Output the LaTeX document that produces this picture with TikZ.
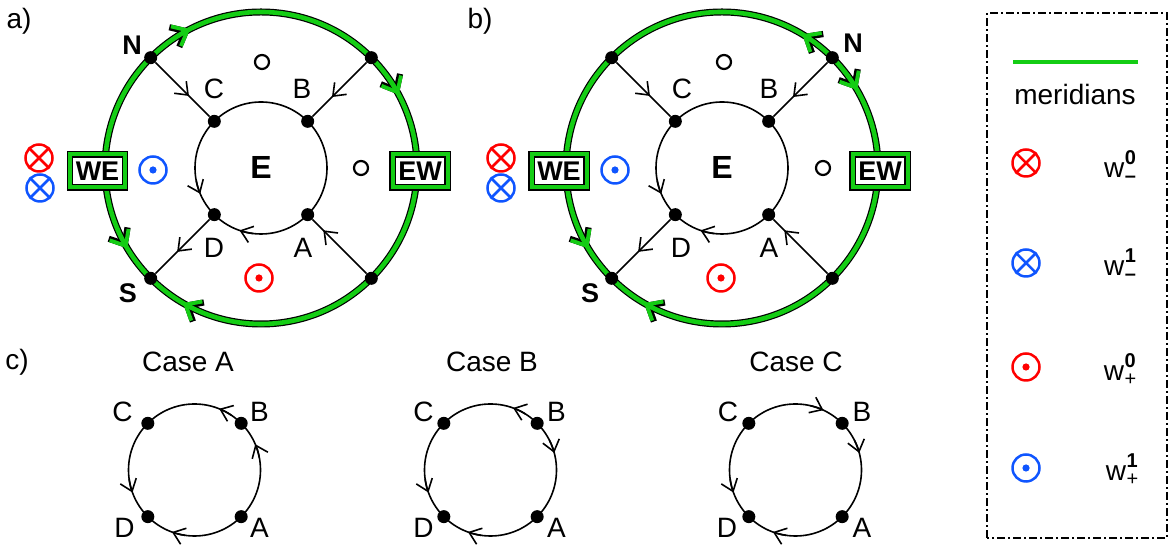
\documentclass[tikz,border=0pt]{standalone}
\usepackage{fontspec}
\setmainfont{Liberation Sans}
\usetikzlibrary{arrows.meta,decorations.markings,calc}
\definecolor{mgreen}{RGB}{20,205,20}
\definecolor{mred}{RGB}{255,0,0}
\definecolor{mblue}{RGB}{15,85,255}
\newcommand{\fs}[1]{\fontsize{#1}{#1}\selectfont}
\newcommand{\arcarrow}[5]{\draw[#5] ([shift={({#3-(#4)}:#2)}]#1) arc[start angle={#3-(#4)}, end angle={#3}, radius=#2];}
\newcommand{\wl}[2]{w\kern0.5pt\rlap{\raisebox{13pt}{\fs{20}\bfseries #1}}\raisebox{-5pt}{\fs{20}#2}}
\tikzset{
  dot/.style={circle, fill=black, inner sep=0, minimum size=13},
  conn/.style={line width=1.6},
  tarrow/.style={line width=1.6, -{Straight Barb[length=11pt,width=17pt]}},
  cmark/.style={postaction={decorate}, decoration={markings, mark=at position #1 with {\arrow{Straight Barb[length=11pt,width=17pt]}}}},
  gK/.style={line width=7, black},
  gG/.style={line width=4.6, mgreen},
  gaK/.style={line width=6.2, black, -{Straight Barb[length=13pt,width=22pt]}},
  gaG/.style={line width=3.8, mgreen, -{Straight Barb[length=13pt,width=22pt]}},
  lab/.style={font=\fs{28}, inner sep=0},
  blab/.style={font=\fs{27}\bfseries, inner sep=0},
  wlab/.style={font=\fs{28}, inner sep=0},
  hole/.style={circle, draw, line width=2.2, minimum size=14, inner sep=0},
  ring/.style={circle, draw=#1, line width=2.5, minimum size=27, inner sep=0},
  box/.style={draw=black, double=mgreen, double distance=4pt, line width=1.1pt, fill=white, minimum width=55, minimum height=33, inner sep=0, font=\fs{27}\bfseries},
  inner/.style={circle, draw, line width=1.6, minimum size=132, inner sep=0},
  legbox/.style={line width=1.5, dash pattern=on 8pt off 3pt on 2pt off 3pt},
}
\begin{document}
\begin{tikzpicture}[x=1pt,y=1pt]
\useasboundingbox (0,0) rectangle (1168,545);
\coordinate (ca) at (261,377);
\coordinate (cb) at (722,377);
% ---------- green outer circles (cased)
\foreach \c in {ca,cb} \draw[gK] (\c) circle[radius=156];
\arcarrow{ca}{156}{117}{-8}{gaK}
\arcarrow{ca}{156}{28}{-8}{gaK}
\arcarrow{ca}{156}{211}{8}{gaK}
\arcarrow{ca}{156}{240}{-8}{gaK}
\arcarrow{cb}{156}{59}{8}{gaK}
\arcarrow{cb}{156}{30}{-8}{gaK}
\arcarrow{cb}{156}{211}{8}{gaK}
\arcarrow{cb}{156}{240}{-8}{gaK}
\foreach \c in {ca,cb} \draw[gG] (\c) circle[radius=156];
\arcarrow{ca}{156}{117}{-8}{gaG}
\arcarrow{ca}{156}{28}{-8}{gaG}
\arcarrow{ca}{156}{211}{8}{gaG}
\arcarrow{ca}{156}{240}{-8}{gaG}
\arcarrow{cb}{156}{59}{8}{gaG}
\arcarrow{cb}{156}{30}{-8}{gaG}
\arcarrow{cb}{156}{211}{8}{gaG}
\arcarrow{cb}{156}{240}{-8}{gaG}
% ---------- panel a
\node[inner, font=\fs{32}\bfseries] (aE) at (ca) {E};
\arcarrow{ca}{66}{203}{12}{tarrow}
\arcarrow{ca}{66}{251}{-12}{tarrow}
\node[dot] (aN) at ([shift={(135:156)}]ca) {};
\node[dot] (aNE) at ([shift={(45:156)}]ca) {};
\node[dot] (aS) at ([shift={(225:156)}]ca) {};
\node[dot] (aSE) at ([shift={(315:156)}]ca) {};
\node[dot] (aC) at ([shift={(135:66)}]ca) {};
\node[dot] (aB) at ([shift={(45:66)}]ca) {};
\node[dot] (aD) at ([shift={(225:66)}]ca) {};
\node[dot] (aA) at ([shift={(315:66)}]ca) {};
\draw[conn, cmark=0.62] (aN) -- (aC);
\draw[conn, cmark=0.64] (aNE) -- (aB);
\draw[conn, cmark=0.6] (aD) -- (aS);
\draw[conn, cmark=0.8] (aSE) -- (aA);
\node[box] (aWE) at (97.5,374) {WE};
\node[box] (aEW) at (420,374) {EW};
\node[blab] (aNl) at (132,500) {N};
\node[blab] (aSl) at (128,252) {S};
\node[lab] (aCl) at (214,456) {C};
\node[lab] (aBl) at (302,456) {B};
\node[lab] (aDl) at (214,297) {D};
\node[lab] (aAl) at (303,297) {A};
\node[lab] (alab) at (19,524) {a)};
\node[hole] (ah1) at (262,483) {};
\node[hole] (ah2) at (361,377) {};
\node[ring=mblue] (abo) at (153,375) {};
\fill[mblue] (abo) circle (3.6);
\node[ring=mred] (aro) at (259,267) {};
\fill[mred] (aro) circle (3.6);
\node[ring=mred] (arx) at (39,387) {};
\draw[mred, line width=2.5] (arx.45) -- (arx.225) (arx.135) -- (arx.315);
\node[ring=mblue] (abx) at (40,357) {};
\draw[mblue, line width=2.5] (abx.45) -- (abx.225) (abx.135) -- (abx.315);
% ---------- panel b
\node[inner, font=\fs{32}\bfseries] (bE) at (cb) {E};
\arcarrow{cb}{66}{203}{12}{tarrow}
\arcarrow{cb}{66}{251}{-12}{tarrow}
\node[dot] (bNW) at ([shift={(135:156)}]cb) {};
\node[dot] (bN) at ([shift={(45:156)}]cb) {};
\node[dot] (bS) at ([shift={(225:156)}]cb) {};
\node[dot] (bSE) at ([shift={(315:156)}]cb) {};
\node[dot] (bC) at ([shift={(135:66)}]cb) {};
\node[dot] (bB) at ([shift={(45:66)}]cb) {};
\node[dot] (bD) at ([shift={(225:66)}]cb) {};
\node[dot] (bA) at ([shift={(315:66)}]cb) {};
\draw[conn, cmark=0.62] (bNW) -- (bC);
\draw[conn, cmark=0.64] (bN) -- (bB);
\draw[conn, cmark=0.6] (bD) -- (bS);
\draw[conn, cmark=0.8] (bSE) -- (bA);
\node[box] (bWE) at (559,374) {WE};
\node[box] (bEW) at (880,374) {EW};
\node[blab] (bNl) at (853,502) {N};
\node[blab] (bSl) at (590,252) {S};
\node[lab] (bCl) at (682,456) {C};
\node[lab] (bBl) at (769,456) {B};
\node[lab] (bDl) at (681,297) {D};
\node[lab] (bAl) at (769,297) {A};
\node[lab] (blab) at (480,524) {b)};
\node[hole] (bh1) at (724,483) {};
\node[hole] (bh2) at (823,377) {};
\node[ring=mblue] (bbo) at (615,375) {};
\fill[mblue] (bbo) circle (3.6);
\node[ring=mred] (bro) at (721,267) {};
\fill[mred] (bro) circle (3.6);
\node[ring=mred] (brx) at (501,387) {};
\draw[mred, line width=2.5] (brx.45) -- (brx.225) (brx.135) -- (brx.315);
\node[ring=mblue] (bbx) at (501,357) {};
\draw[mblue, line width=2.5] (bbx.45) -- (bbx.225) (bbx.135) -- (bbx.315);
% ---------- panel c
\node[lab] (clab) at (17,183) {c)};
\node[lab] (caseA) at (188,183) {Case A};
\node[lab] (caseB) at (492,183) {Case B};
\node[lab] (caseC) at (796,183) {Case C};
\coordinate (kA) at (194.5,75);
\coordinate (kB) at (490.5,75);
\coordinate (kC) at (795.5,75);
\foreach \k in {kA,kB,kC} {
  \node[circle, draw, line width=1.6, minimum size=132, inner sep=0] (\k c) at (\k) {};
}
\arcarrow{kA}{66}{68}{12}{tarrow}
\arcarrow{kA}{66}{23}{12}{tarrow}
\arcarrow{kA}{66}{200}{12}{tarrow}
\arcarrow{kA}{66}{250}{-12}{tarrow}
\arcarrow{kB}{66}{70}{12}{tarrow}
\arcarrow{kB}{66}{15}{-12}{tarrow}
\arcarrow{kB}{66}{200}{12}{tarrow}
\arcarrow{kB}{66}{250}{-12}{tarrow}
\arcarrow{kC}{66}{65}{-12}{tarrow}
\arcarrow{kC}{66}{15}{-12}{tarrow}
\arcarrow{kC}{66}{200}{12}{tarrow}
\arcarrow{kC}{66}{250}{-12}{tarrow}
\foreach \k in {kA,kB,kC} {
  \node[dot] (\k C) at ([shift={(135:66)}]\k) {};
  \node[dot] (\k B) at ([shift={(45:66)}]\k) {};
  \node[dot] (\k D) at ([shift={(225:66)}]\k) {};
  \node[dot] (\k A) at ([shift={(315:66)}]\k) {};
}
\node[lab] (kAlC) at ([shift={(-72,58)}]kA) {C};
\node[lab] (kAlB) at ([shift={(65,58)}]kA) {B};
\node[lab] (kAlD) at ([shift={(-70,-58)}]kA) {D};
\node[lab] (kAlA) at ([shift={(65,-58)}]kA) {A};
\node[lab] (kBlC) at ([shift={(-67,58)}]kB) {C};
\node[lab] (kBlB) at ([shift={(66,58)}]kB) {B};
\node[lab] (kBlD) at ([shift={(-67,-58)}]kB) {D};
\node[lab] (kBlA) at ([shift={(66,-58)}]kB) {A};
\node[lab] (kClC) at ([shift={(-67.5,58)}]kC) {C};
\node[lab] (kClB) at ([shift={(66.5,58)}]kC) {B};
\node[lab] (kClD) at ([shift={(-68.5,-58)}]kC) {D};
\node[lab] (kClA) at ([shift={(66.5,-58)}]kC) {A};
% ---------- legend
\draw[legbox] (987,7) rectangle (1167,532);
\coordinate (lg1) at (1013,483);
\coordinate (lg2) at (1138,483);
\draw[line width=4, mgreen] (lg1) -- (lg2);
\node[lab] (lmer) at (1075,450) {meridians};
\node[ring=mred] (lrx) at (1026,382) {};
\draw[mred, line width=2.5] (lrx.45) -- (lrx.225) (lrx.135) -- (lrx.315);
\node[ring=mblue] (lbx) at (1026,282) {};
\draw[mblue, line width=2.5] (lbx.45) -- (lbx.225) (lbx.135) -- (lbx.315);
\node[ring=mred] (lro) at (1026,178) {};
\fill[mred] (lro) circle (3.6);
\node[ring=mblue] (lbo) at (1026,77) {};
\fill[mblue] (lbo) circle (3.6);
\node[wlab] (lw1) at (1120,378) {\wl{0}{\bfseries\textendash}};
\node[wlab] (lw2) at (1120,280) {\wl{1}{\bfseries\textendash}};
\node[wlab] (lw3) at (1120,175) {\wl{0}{+}};
\node[wlab] (lw4) at (1122,75) {\wl{1}{+}};
\end{tikzpicture}
\end{document}
